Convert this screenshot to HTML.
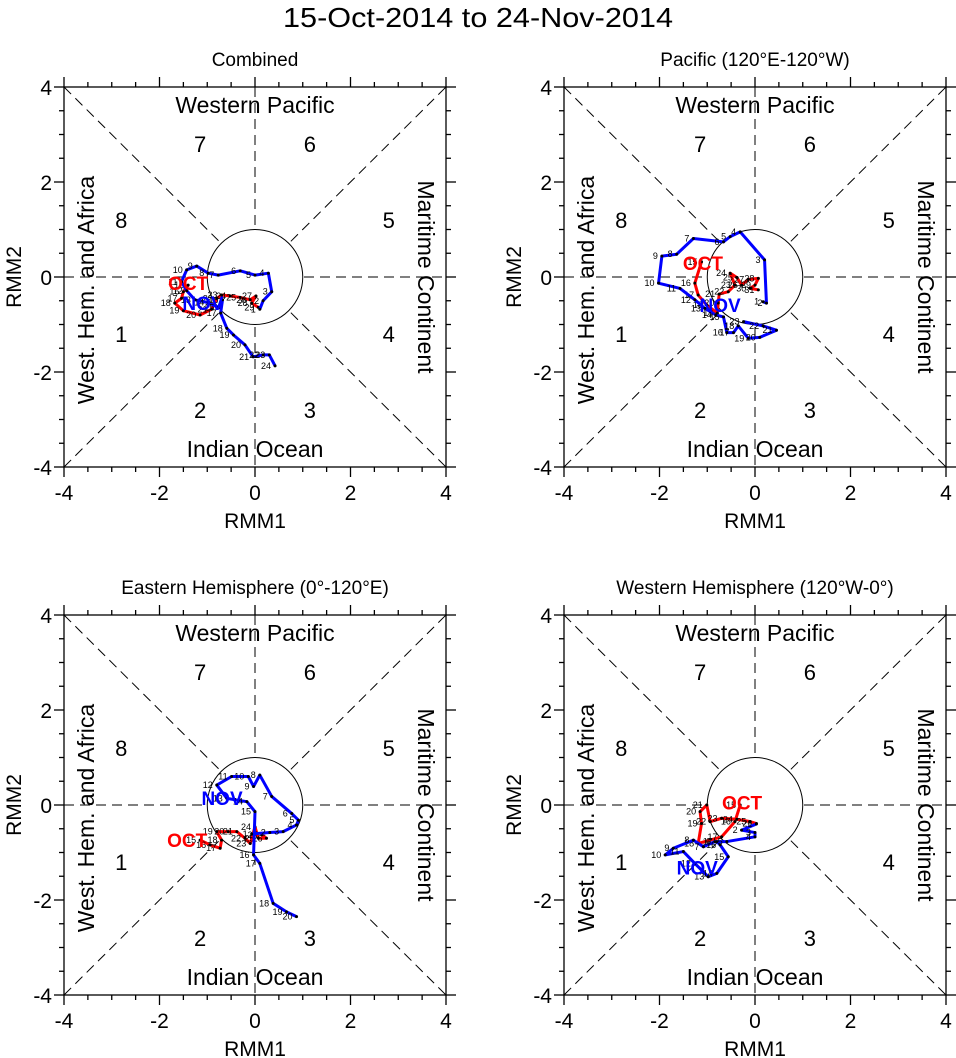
<!DOCTYPE html>
<html><head><meta charset="utf-8"><style>
body{margin:0;background:#fff;}
svg{display:block;font-family:"Liberation Sans",sans-serif;}
</style></head><body>
<svg id="chart" width="956" height="1058" xmlns="http://www.w3.org/2000/svg">
<text x="478" y="27" text-anchor="middle" font-size="28" textLength="390" lengthAdjust="spacingAndGlyphs">15-Oct-2014 to 24-Nov-2014</text>
</svg>
<script>
// Data (RMM1, RMM2) per panel
const p1RedX=[-1.40,-1.50,-1.54,-1.68,-1.50,-1.15,-0.91,-0.80,-0.70,-0.52,-0.31,-0.10,0.02,-0.07,0.07];
const p1RedY=[-0.17,-0.31,-0.45,-0.55,-0.71,-0.80,-0.68,-0.45,-0.38,-0.40,-0.43,-0.48,-0.40,-0.55,-0.64];
const p1BlueX=[0.10,0.17,0.35,0.28,0.00,-0.31,-0.77,-0.98,-1.22,-1.43,-1.54,-1.43,-1.26,-0.98,-0.77,-0.68,-0.72,-0.59,-0.45,-0.21,-0.04,0.17,0.30,0.42];
const p1BlueY=[-0.68,-0.50,-0.31,0.08,0.04,0.13,0.04,0.08,0.23,0.15,-0.10,-0.29,-0.48,-0.54,-0.64,-0.48,-0.76,-1.08,-1.22,-1.43,-1.68,-1.64,-1.64,-1.87];
const p2RedX=[-1.12,-1.26,-1.19,-1.01,-0.79,-0.77,-0.75,-0.56,-0.42,-0.52,-0.38,-0.28,-0.14,0.07,0.00,-0.10,0.07];
const p2RedY=[0.32,-0.13,-0.38,-0.59,-0.76,-0.55,-0.36,-0.31,-0.17,0.08,-0.01,-0.17,-0.05,-0.03,-0.17,-0.24,-0.27];
const p2BlueX=[0.17,0.24,0.20,-0.31,-0.52,-0.66,-1.29,-1.64,-1.95,-2.02,-1.57,-1.26,-1.05,-0.82,-0.66,-0.59,-0.45,-0.35,-0.14,0.10,0.45,0.17,-0.24];
const p2BlueY=[-0.52,-0.55,0.36,0.95,0.85,0.74,0.81,0.48,0.44,-0.13,-0.24,-0.48,-0.66,-0.80,-0.84,-1.17,-1.17,-1.03,-1.29,-1.27,-1.12,-1.03,-0.94];
const p3RedX=[-1.15,-0.94,-0.73,-0.70,-0.80,-0.56,-0.38,-0.21,-0.10,0.00,0.07,0.24,0.14];
const p3RedY=[-0.74,-0.84,-0.91,-0.74,-0.56,-0.56,-0.56,-0.70,-0.81,-0.46,-0.70,-0.70,-0.63];
const p3BlueX=[-0.07,0.31,0.59,0.87,0.91,0.77,0.35,0.10,-0.03,-0.14,-0.49,-0.80,-0.59,-0.17,0.00,-0.03,0.10,0.38,0.66,0.87];
const p3BlueY=[-0.61,-0.58,-0.56,-0.42,-0.32,-0.18,0.18,0.63,0.39,0.60,0.60,0.42,0.14,0.07,-0.14,-1.05,-1.23,-2.07,-2.25,-2.35];
const p4RedX=[-0.31,-0.42,-0.70,-1.19,-1.12,-1.15,-1.01,-0.94,-0.70,-0.38,-0.10,0.03];
const p4RedY=[0.00,-0.35,-0.67,-0.81,-0.39,-0.14,0.00,-0.35,-0.28,-0.30,-0.35,-0.39];
const p4BlueX=[0.03,-0.28,0.00,0.00,-0.59,-0.84,-1.08,-1.29,-1.71,-1.88,-1.50,-1.26,-0.98,-0.80,-0.56,-0.73,-0.80];
const p4BlueY=[-0.40,-0.53,-0.58,-0.67,-0.77,-0.77,-0.88,-0.74,-0.91,-1.05,-0.98,-1.23,-1.51,-1.44,-1.09,-0.84,-0.77];
const tickLabels=["-4","-2","0","2","4"];
const phaseNums=["1","2","3","4","5","6","7","8"];

const NS="http://www.w3.org/2000/svg";
const svg=document.getElementById('chart');
function mk(tag,attrs,parent){const e=document.createElementNS(NS,tag);for(const k in attrs)e.setAttribute(k,attrs[k]);(parent||svg).appendChild(e);return e;}

const panels=[
 {x0:64,y0:87,title:"Combined",rx:p1RedX,ry:p1RedY,bx:p1BlueX,by:p1BlueY,oct:[-1.40,-0.13],nov:[-1.09,-0.55]},
 {x0:564,y0:87,title:"Pacific (120°E-120°W)",rx:p2RedX,ry:p2RedY,bx:p2BlueX,by:p2BlueY,oct:[-1.09,0.29],nov:[-0.73,-0.59]},
 {x0:64,y0:615,title:"Eastern Hemisphere (0°-120°E)",rx:p3RedX,ry:p3RedY,bx:p3BlueX,by:p3BlueY,oct:[-1.42,-0.74],nov:[-0.69,0.15]},
 {x0:564,y0:615,title:"Western Hemisphere (120°W-0°)",rx:p4RedX,ry:p4RedY,bx:p4BlueX,by:p4BlueY,oct:[-0.27,0.05],nov:[-1.21,-1.32]}
];
const W=382,H=380;
panels.forEach((p,i)=>{
 const g=mk('g',{});
 
 
 const sx=v=>p.x0+(v+4)/8*W, sy=v=>p.y0+(4-v)/8*H;
 const cx=sx(0),cy=sy(0);
 const t=mk('text',{x:cx,y:p.y0-21,'text-anchor':'middle','font-size':19},g);t.textContent=p.title;
 
 
 const fr=mk('rect',{x:p.x0,y:p.y0,width:W,height:H,fill:'none',stroke:'#000','stroke-width':1.3},g);
 
 
 const ds={stroke:'#000','stroke-width':1,'stroke-dasharray':'10,6',fill:'none'};
 [[sx(-4),sy(4),sx(4),sy(-4)],[sx(-4),sy(-4),sx(4),sy(4)],[sx(-4),cy,sx(4),cy],[cx,sy(4),cx,sy(-4)]].forEach(l=>{
  const ln=mk('line',Object.assign({x1:l[0],y1:l[1],x2:l[2],y2:l[3]},ds),g);
  
  
 });
 const c=mk('ellipse',{cx:cx,cy:cy,rx:W/8,ry:H/8,fill:'#fff',stroke:'#000','stroke-width':1},g);
 
 
 for(let v=-4;v<=4.001;v+=0.5){
  const maj=Math.abs(v%2)<1e-6, len=maj?10:5;
  const ts={stroke:'#000','stroke-width':1.3};
  mk('line',Object.assign({x1:sx(v),y1:sy(-4),x2:sx(v),y2:sy(-4)+len},ts),g);
  mk('line',Object.assign({x1:sx(v),y1:sy(4),x2:sx(v),y2:sy(4)-len},ts),g);
  mk('line',Object.assign({x1:sx(-4),y1:sy(v),x2:sx(-4)-len,y2:sy(v)},ts),g);
  mk('line',Object.assign({x1:sx(4),y1:sy(v),x2:sx(4)+len,y2:sy(v)},ts),g);
 }
 tickLabels.forEach((s,k)=>{
  const v=-4+2*k;
  const a=mk('text',{x:sx(v),y:sy(-4)+33,'text-anchor':'middle','font-size':21},g);a.textContent=s;
  
  const b=mk('text',{x:sx(-4)-12,y:sy(v)+8,'text-anchor':'end','font-size':21},g);b.textContent=s;
  
 });
 const xt=mk('text',{x:cx,y:sy(-4)+61,'text-anchor':'middle','font-size':21},g);xt.textContent='RMM1';
 
 const yt=mk('text',{x:0,y:0,'text-anchor':'middle','font-size':21,transform:`translate(${p.x0-43},${cy}) rotate(-90)`},g);yt.textContent='RMM2';
 
 const r1=mk('text',{x:cx,y:sy(4)+26,'text-anchor':'middle','font-size':23},g);r1.textContent='Western Pacific';
 
 const r2=mk('text',{x:cx,y:sy(-4)-10,'text-anchor':'middle','font-size':23},g);r2.textContent='Indian Ocean';
 
 const r3=mk('text',{x:0,y:0,'text-anchor':'middle','font-size':23,transform:`translate(${sx(-4)+30},${cy+13}) rotate(-90)`},g);r3.textContent='West. Hem. and Africa';
 
 const r4=mk('text',{x:0,y:0,'text-anchor':'middle','font-size':23,transform:`translate(${sx(4)-28},${cy}) rotate(90)`},g);r4.textContent='Maritime Continent';
 
 const pos=[[-2.8,-1.2],[-1.15,-2.8],[1.15,-2.8],[2.8,-1.2],[2.8,1.2],[1.15,2.8],[-1.15,2.8],[-2.8,1.2]];
 phaseNums.forEach((s,k)=>{
  const n=mk('text',{x:sx(pos[k][0]),y:sy(pos[k][1])+8,'text-anchor':'middle','font-size':22},g);n.textContent=s;
  
 });
 function series(xs,ys,col,name,startDay){
  const pts=xs.map((x,k)=>sx(x)+','+sy(ys[k])).join(' ');
  const pl=mk('polyline',{points:pts,fill:'none',stroke:col,'stroke-width':3,'stroke-linejoin':'round'},g);
  
  
  xs.forEach((x,k)=>{
   mk('circle',{cx:sx(x),cy:sy(ys[k]),r:1.5,fill:'#000'},g);
   const d=mk('text',{x:sx(x)-4,y:sy(ys[k])+3,'text-anchor':'end','font-size':9},g);d.textContent=String(startDay+k);
   
  });
 }
 series(p.rx,p.ry,'#ff0000','october-track',15);
 series(p.bx,p.by,'#0000ff','november-track',1);
 const o=mk('text',{x:sx(p.oct[0]),y:sy(p.oct[1])+7,'text-anchor':'middle','font-size':19,'font-weight':'bold',fill:'#ff0000'},g);o.textContent='OCT';
 
 const nv=mk('text',{x:sx(p.nov[0]),y:sy(p.nov[1])+7,'text-anchor':'middle','font-size':19,'font-weight':'bold',fill:'#0000ff'},g);nv.textContent='NOV';
 
});
</script>
</body></html>
